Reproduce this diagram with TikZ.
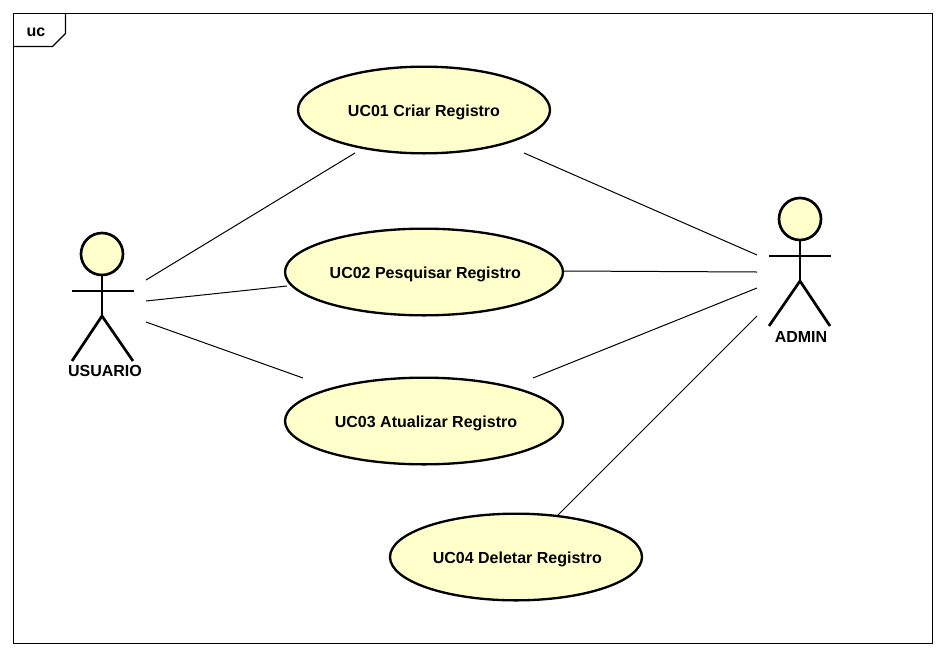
\documentclass[tikz,border=0pt]{standalone}
\usepackage{fontspec}
\setmainfont{Liberation Sans}
\usetikzlibrary{shapes.geometric}
\definecolor{ucfill}{HTML}{FFFFCC}
\newcommand{\uctext}[2]{\raisebox{0pt}[10pt][0pt]{\hspace{#1}#2}}
\tikzset{
 px/.style={x=0.75pt,y=-0.75pt},
 usecase/.style={ellipse,draw=black,line width=1.75pt,fill=ucfill,inner sep=0pt,minimum height=65pt,font=\fontsize{12}{14}\selectfont\bfseries},
 actorline/.style={draw=black,line width=2pt},
 actorhead/.style={circle,draw=black,line width=2pt,fill=ucfill,minimum size=31.5pt,inner sep=0pt},
 assoc/.style={draw=black,line width=0.75pt},
 framing/.style={draw=black,line width=0.85pt},
 lbl/.style={inner sep=0pt,font=\fontsize{12}{14}\selectfont\bfseries}
}
\begin{document}
\begin{tikzpicture}[px]
\useasboundingbox (0,0) rectangle (945,657);
\fill[white] (0,0) rectangle (945,657);
\draw[framing] (13.5,13.5) rectangle (932.5,643.5);
\draw[framing] (13.5,46.5) -- (52.5,46.5) -- (65.5,33.5) -- (65.5,13.5);
\node[lbl] (frame) at (36,32) {uc};
\node[usecase,minimum width=189pt] (u1) at (424,110) {\uctext{0pt}{UC01 Criar Registro}};
\node[usecase,minimum width=208.5pt] (u2) at (424,272) {\uctext{2pt}{UC02 Pesquisar Registro}};
\node[usecase,minimum width=208.5pt] (u3) at (424,421) {\uctext{3pt}{UC03 Atualizar Registro}};
\node[usecase,minimum width=189pt] (u4) at (516,557) {\uctext{2pt}{UC04 Deletar Registro}};
% actor USUARIO
\node[actorhead] (ah) at (102,254) {};
\coordinate (ab) at (102,316);
\draw[actorline] (ah.south) -- (ab);
\draw[actorline] (72,291) -- (134,291);
\draw[actorline] (72,361) -- (ab) -- (133,361);
\node[lbl] (al) at (105,371) {USUARIO};
% actor ADMIN
\node[actorhead] (bh) at (800,219) {};
\coordinate (bb) at (800,281);
\draw[actorline] (bh.south) -- (bb);
\draw[actorline] (769,256) -- (831,256);
\draw[actorline] (769,326) -- (bb) -- (830,326);
\node[lbl] (bl) at (801,337) {ADMIN};
% connectors
\coordinate (a1) at (146,280); \coordinate (u1a) at (355,153);
\coordinate (a2) at (146,301); \coordinate (u2a) at (287,286);
\coordinate (a3) at (146,322); \coordinate (u3a) at (303,378);
\coordinate (b1) at (757,255); \coordinate (u1b) at (524,153);
\coordinate (b2) at (757,272); \coordinate (u2b) at (564,271);
\coordinate (b3) at (757,288); \coordinate (u3b) at (533,378);
\coordinate (b4) at (757,316); \coordinate (u4b) at (558,515);
\draw[assoc] (a1) -- (u1a);
\draw[assoc] (a2) -- (u2a);
\draw[assoc] (a3) -- (u3a);
\draw[assoc] (b1) -- (u1b);
\draw[assoc] (b2) -- (u2b);
\draw[assoc] (b3) -- (u3b);
\draw[assoc] (b4) -- (u4b);
\end{tikzpicture}
\end{document}
